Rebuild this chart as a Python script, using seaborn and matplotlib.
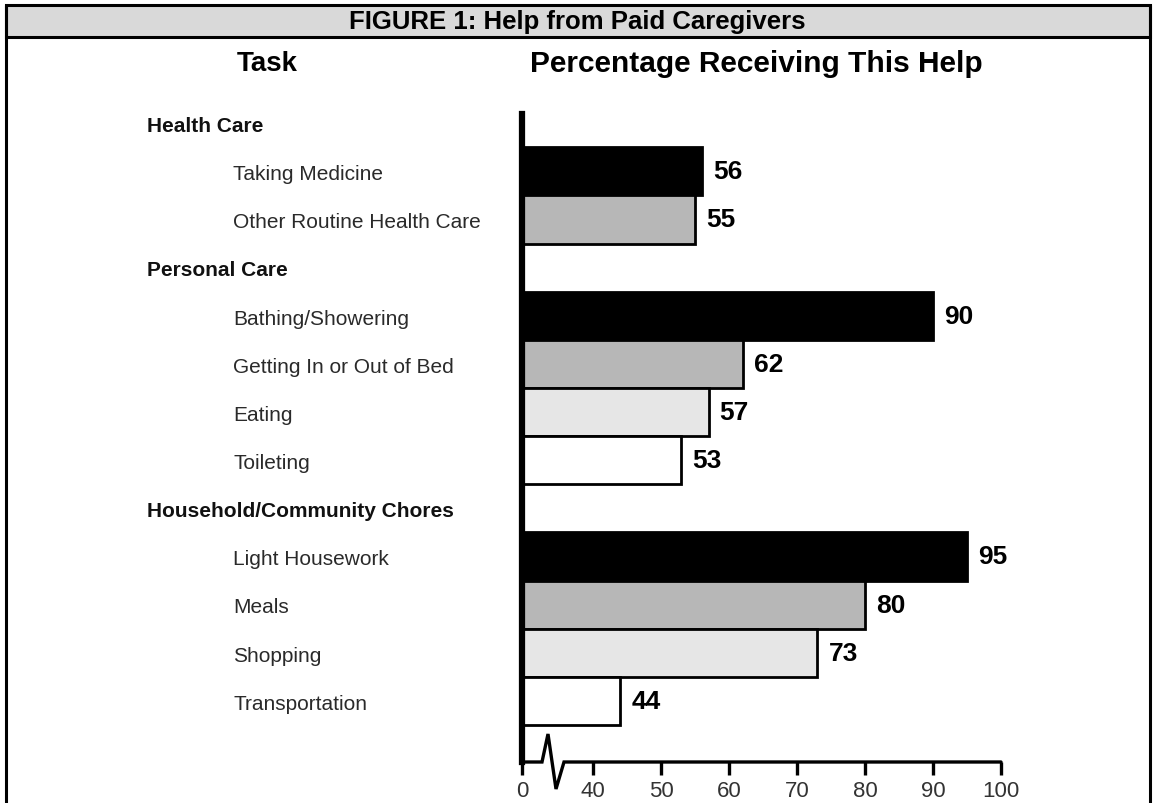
import matplotlib
matplotlib.use("Agg")
import matplotlib.pyplot as plt
import matplotlib.transforms as mtransforms
from matplotlib.lines import Line2D
from matplotlib.patches import Rectangle
from matplotlib import font_manager
import seaborn as sns
import pandas as pd
import numpy as np

# ---------------- data ----------------
groups = ["Health Care", "Personal Care", "Household/Community Chores"]
health_tasks = ["Taking Medicine", "Other Routine Health Care"]
health_values = [56, 55]
personal_tasks = ["Bathing/Showering", "Getting In or Out of Bed", "Eating", "Toileting"]
personal_values = [90, 62, 57, 53]
chores_tasks = ["Light Housework", "Meals", "Shopping", "Transportation"]
chores_values = [95, 80, 73, 44]
shade_levels = ["s1", "s2", "s3", "s4"]
tick_values = [40, 50, 60, 70, 80, 90, 100]
tick_labels = ["0", "40", "50", "60", "70", "80", "90", "100"]
title = "FIGURE 1: Help from Paid Caregivers"
left_header = "Task"
right_header = "Percentage Receiving This Help"

palette = {"s1": "#000000", "s2": "#b7b7b7", "s3": "#e6e6e6", "s4": "#ffffff"}

rows = []
order = []
for g, tasks, vals in [(groups[0], health_tasks, health_values),
                       (groups[1], personal_tasks, personal_values),
                       (groups[2], chores_tasks, chores_values)]:
    order.append(g)
    for i, (t, v) in enumerate(zip(tasks, vals)):
        order.append(t)
        rows.append({"task": t, "value": v, "group": g, "shade": shade_levels[i]})
df = pd.DataFrame(rows)

# ---------------- figure ----------------
sns.set_style("white")
plt.rcParams["font.family"] = ["Liberation Sans", "DejaVu Sans"]

installed = {f.name for f in font_manager.fontManager.ttflist}
narrow = "Liberation Sans Narrow" if "Liberation Sans Narrow" in installed else "Liberation Sans"

W, H = 1153, 804
fig = plt.figure(figsize=(W / 100, H / 100), dpi=100)
fig.patch.set_facecolor("white")

ax_l, ax_r, ax_t, ax_b = 522, 1001, 115, 763
ax = fig.add_axes([ax_l / W, 1 - ax_b / H, (ax_r - ax_l) / W, (ax_b - ax_t) / H])

sns.barplot(data=df, x="value", y="task", hue="shade", order=order,
            hue_order=shade_levels, palette=palette, dodge=False, width=1.0,
            edgecolor="black", linewidth=2.0, errorbar=None, legend=False,
            orient="h", ax=ax)

px_per_unit = 6.8
xmin = 100 - (ax_r - ax_l) / px_per_unit
ax.set_xlim(xmin, 100)
ax.set_ylim(13.27, -0.19)

for c in ax.containers:
    labs = []
    for w in c.datavalues:
        labs.append("" if (w is None or np.isnan(w)) else f"{w:.0f}")
    ax.bar_label(c, labels=labs, padding=8, fontsize=19, fontweight="bold",
                 color="black", clip_on=False, family=[narrow, "Liberation Sans"])

ax.set_xticks([xmin] + tick_values)
ax.set_xticklabels(tick_labels)
ax.tick_params(axis="x", bottom=True, direction="out", length=9, width=2.4, pad=4,
               labelsize=16, labelcolor="#333333", color="black")
for lab in ax.get_xticklabels():
    lab.set_family([narrow, "Liberation Sans"])
ax.tick_params(axis="y", left=False, labelleft=False)
ax.set_xlabel("")
ax.set_ylabel("")
for s in ["top", "right", "bottom"]:
    ax.spines[s].set_visible(False)
ax.spines["left"].set_linewidth(4.5)
ax.spines["left"].set_color("black")

# broken x-axis line with zig-zag
tr = mtransforms.blended_transform_factory(ax.transData, ax.transAxes)
zx = [xmin, xmin + 20 / px_per_unit, xmin + 26 / px_per_unit,
      xmin + 34 / px_per_unit, xmin + 42 / px_per_unit, 100]
zy = [0, 0, 28 / (ax_b - ax_t), -27 / (ax_b - ax_t), 0, 0]
ax.plot(zx, zy, transform=tr, color="black", lw=2.4, clip_on=False,
        solid_joinstyle="miter", zorder=5)

# row labels
tl = mtransforms.blended_transform_factory(fig.transFigure, ax.transData)
for i, name in enumerate(order):
    if name in groups:
        ax.text(147 / W, i + 0.05, name, transform=tl, ha="left", va="center",
                fontsize=15, fontweight="bold", color="#111111")
    else:
        ax.text(233 / W, i + 0.05, name, transform=tl, ha="left", va="center",
                fontsize=15, color="#2a2a2a")

# frame and title bar
fig.add_artist(Rectangle((6 / W, 1 - 38 / H), (1150 - 6) / W, 32 / H,
                         transform=fig.transFigure, facecolor="#d9d9d9",
                         edgecolor="black", linewidth=2.2, zorder=0))
fig.add_artist(Line2D([6 / W, 6 / W], [0, 1 - 6 / H], transform=fig.transFigure,
                      color="black", lw=2.2))
fig.add_artist(Line2D([1150 / W, 1150 / W], [0, 1 - 6 / H], transform=fig.transFigure,
                      color="black", lw=2.2))
fig.text(577 / W, 1 - 22 / H, title, ha="center", va="center",
         fontsize=18.5, fontweight="bold", color="black")
fig.text(267 / W, 1 - 64 / H, left_header, ha="center", va="center",
         fontsize=20, fontweight="bold", color="black")
fig.text(756 / W, 1 - 64 / H, right_header, ha="center", va="center",
         fontsize=21.5, fontweight="bold", color="black")

fig.savefig("out.png", dpi=100, facecolor="white")
